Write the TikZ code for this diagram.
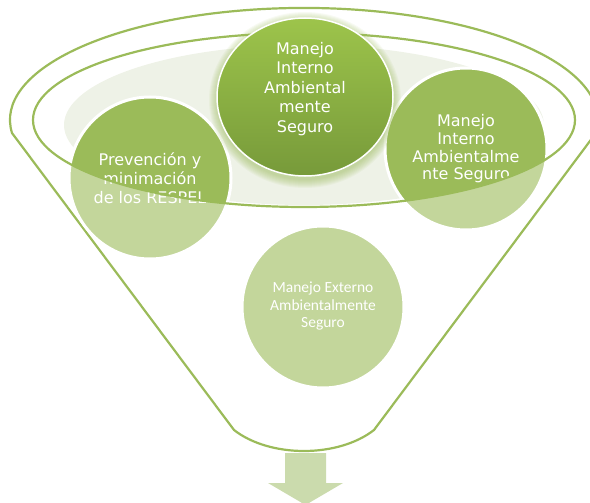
\documentclass[tikz,border=0pt]{standalone}
\usepackage{fontspec}
\setmainfont{DejaVu Sans}
\newfontfamily\carlito{Carlito}
\usepackage{xcolor}
\definecolor{olive}{HTML}{9BBB59}
\definecolor{olivelight}{HTML}{C3D69B}
\definecolor{oliverim}{HTML}{EEF2E7}
\definecolor{olivetop}{HTML}{9DC44B}
\definecolor{olivedark}{HTML}{779A3A}
\definecolor{arrowfill}{HTML}{CBDBAD}

\begin{document}
\begin{tikzpicture}[x=1pt,y=-1pt,
    rim/.style={draw=olive,line width=2.2pt,line join=round},
    lbl/.style={text=white,align=center,font=\fontsize{16}{19}\selectfont}]
  \useasboundingbox (0,0) rectangle (590,503);
  % funnel outline
  \draw[rim] (12,133) arc[start angle=173.3,end angle=366.7,x radius=294,y radius=112]
    -- (374,430) .. controls (338,458) and (270,458) .. (234,430) -- cycle;
  \fill[oliverim] (304,125) ellipse[x radius=240,y radius=80];
  % lower circles: light, darker inside the rim
  \foreach \cx/\cy in {150/178,466/149,323/307}{
    \fill[olivelight] (\cx,\cy) circle[radius=81];
    \begin{scope}
      \clip (304,120) ellipse[x radius=271,y radius=87];
      \fill[olive] (\cx,\cy) circle[radius=81];
    \end{scope}
    \draw[white,line width=3pt] (\cx,\cy) circle[radius=81];
  }
  \node[lbl] (prev) at (150,178) {Prevención y\\minimación\\de los RESPEL};
  \node[lbl,font=\fontsize{16}{17.7}\selectfont] (intder) at (466,149) {Manejo\\Interno\\Ambientalme\\nte Seguro};
  \node[lbl,font=\carlito\fontsize{15.5}{17.5}\selectfont] (ext) at (323,306) {Manejo Externo\\Ambientalmente\\Seguro};
  \draw[rim] (304,120) ellipse[x radius=271,y radius=87];
  % top circle with glow
  \foreach \g in {1,...,9}
    \fill[olive,opacity=0.07] (305,100) ellipse[x radius=87+\g,y radius=79+\g];
  \path[draw=white,line width=1.5pt,top color=olivetop,bottom color=olivedark]
    (305,97) ellipse[x radius=88,y radius=79];
  \node[lbl,font=\fontsize{16}{19.5}\selectfont] (intizq) at (305,89) {Manejo\\Interno\\Ambiental\\mente\\Seguro};
  % output arrow
  \fill[arrowfill] (285,453) -- (326,453) -- (326,483) -- (343,483) -- (305.5,505)
    -- (268,483) -- (285,483) -- cycle;
\end{tikzpicture}
\end{document}
